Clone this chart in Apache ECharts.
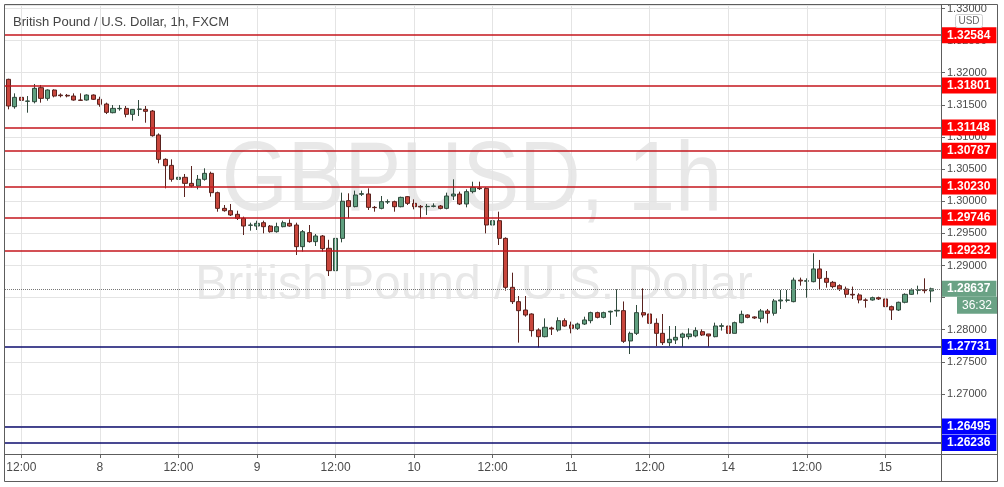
<!DOCTYPE html>
<html><head><meta charset="utf-8">
<script src="https://cdn.jsdelivr.net/npm/echarts@6/dist/echarts.min.js"></script>
<style>html,body{margin:0;padding:0;background:#fff}#c{width:1004px;height:487px}</style>
</head><body><div id="c"></div>
<script>
// ---- data (GBP/USD 1h, FXCM) ----
const opens = [
1.31897,1.31471,1.31617,1.31555,1.31549,1.31767,1.31601,1.31731,1.31653,1.31648,
1.31637,1.31575,1.31575,1.31653,1.31586,1.31513,1.31378,1.31440,1.31445,1.31352,
1.31430,1.31430,1.31404,1.31031,1.30652,1.30558,1.30341,1.30372,1.30278,1.30237,
1.30341,1.30434,1.30133,1.29889,1.29853,1.29796,1.29734,1.29625,1.29614,1.29666,
1.29614,1.29526,1.29604,1.29656,1.29630,1.29293,1.29511,1.29371,1.29459,1.29267,
1.28919,1.29422,1.30009,1.29916,1.30108,1.30113,1.29905,1.29889,1.29988,1.29993,
1.29915,1.30071,1.29967,1.29920,1.29915,1.29920,1.29926,1.29889,1.30081,1.30112,
1.29957,1.30149,1.30206,1.30200,1.29630,1.29697,1.29422,1.28660,1.28437,1.28307,
1.28245,1.27996,1.27892,1.28027,1.27996,1.28141,1.28074,1.28022,1.28089,1.28141,
1.28266,1.28193,1.28276,1.28292,1.28297,1.27825,1.27944,1.28266,1.28245,1.28100,
1.27944,1.27799,1.27840,1.27882,1.27892,1.27903,1.27970,1.27934,1.27892,1.28053,
1.28058,1.27944,1.28110,1.28230,1.28199,1.28178,1.28292,1.28256,1.28448,1.28458,
1.28437,1.28772,1.28754,1.28748,1.28946,1.28800,1.28738,1.28686,1.28634,1.28551,
1.28541,1.28463,1.28463,1.28499,1.28479,1.28359,1.28307,1.28427,1.28551,1.28614,
1.28624,1.28603];
const closes = [
1.31482,1.31617,1.31570,1.31560,1.31757,1.31601,1.31731,1.31637,1.31643,1.31638,
1.31575,1.31570,1.31653,1.31586,1.31508,1.31383,1.31445,1.31445,1.31352,1.31430,
1.31435,1.31399,1.31020,1.30652,1.30553,1.30341,1.30372,1.30278,1.30237,1.30341,
1.30434,1.30133,1.29889,1.29853,1.29786,1.29734,1.29614,1.29630,1.29656,1.29604,
1.29526,1.29604,1.29666,1.29614,1.29293,1.29526,1.29371,1.29459,1.29262,1.28919,
1.29422,1.30000,1.29916,1.30097,1.30118,1.29905,1.29900,1.29993,1.29993,1.29915,
1.30060,1.29967,1.29915,1.29910,1.29920,1.29926,1.29889,1.30081,1.30112,1.29957,
1.30149,1.30216,1.30195,1.29630,1.29697,1.29422,1.28660,1.28437,1.28297,1.28229,
1.27986,1.27892,1.28038,1.28012,1.28141,1.28058,1.28022,1.28089,1.28152,1.28266,
1.28193,1.28266,1.28287,1.28302,1.27820,1.27944,1.28266,1.28229,1.28100,1.27944,
1.27799,1.27851,1.27882,1.27934,1.27934,1.27986,1.27918,1.27903,1.28058,1.28063,
1.27944,1.28110,1.28240,1.28193,1.28183,1.28292,1.28256,1.28448,1.28463,1.28463,
1.28772,1.28759,1.28764,1.28946,1.28800,1.28738,1.28671,1.28634,1.28551,1.28541,
1.28463,1.28458,1.28499,1.28479,1.28359,1.28307,1.28427,1.28551,1.28619,1.28624,
1.28608,1.28637];
const lows = [
1.31430,1.31440,1.31461,1.31378,1.31523,1.31534,1.31565,1.31617,1.31617,1.31617,
1.31565,1.31565,1.31565,1.31575,1.31471,1.31357,1.31368,1.31409,1.31306,1.31254,
1.31326,1.31222,1.31005,1.30590,1.30201,1.30304,1.30175,1.30066,1.30216,1.30185,
1.30320,1.30071,1.29837,1.29837,1.29770,1.29708,1.29474,1.29542,1.29552,1.29500,
1.29511,1.29511,1.29594,1.29604,1.29163,1.29215,1.29355,1.29303,1.29215,1.28836,
1.28852,1.29360,1.29734,1.29905,1.30082,1.29864,1.29837,1.29874,1.29957,1.29837,
1.29905,1.29941,1.29874,1.29734,1.29786,1.29905,1.29874,1.29874,1.30019,1.29941,
1.29905,1.30123,1.30175,1.29500,1.29241,1.29319,1.28608,1.28401,1.27799,1.28203,
1.27892,1.27726,1.27882,1.27918,1.27970,1.28048,1.27944,1.27996,1.28074,1.28100,
1.28177,1.28177,1.28074,1.28203,1.27795,1.27622,1.27918,1.28193,1.28074,1.27747,
1.27763,1.27747,1.27778,1.27737,1.27851,1.27882,1.27903,1.27737,1.27882,1.27986,
1.27903,1.27944,1.28100,1.28178,1.28168,1.28116,1.28100,1.28219,1.28323,1.28427,
1.28427,1.28686,1.28499,1.28738,1.28634,1.28655,1.28645,1.28603,1.28499,1.28479,
1.28411,1.28344,1.28453,1.28463,1.28333,1.28152,1.28292,1.28411,1.28541,1.28551,
1.28567,1.28427];
const highs = [
1.31907,1.31679,1.31669,1.31637,1.31824,1.31809,1.31741,1.31741,1.31679,1.31669,
1.31679,1.31679,1.31663,1.31663,1.31627,1.31534,1.31497,1.31497,1.31482,1.31435,
1.31575,1.31482,1.31420,1.31056,1.30667,1.30652,1.30476,1.30424,1.30548,1.30408,
1.30512,1.30460,1.30149,1.29941,1.29957,1.29853,1.29760,1.29666,1.29697,1.29697,
1.29630,1.29666,1.29697,1.29718,1.29666,1.29552,1.29630,1.29490,1.29474,1.29400,
1.29830,1.30133,1.30123,1.30165,1.30165,1.30201,1.29926,1.30081,1.30029,1.30009,
1.30071,1.30081,1.30029,1.29941,1.29957,1.29967,1.29941,1.30133,1.30341,1.30149,
1.30185,1.30304,1.30304,1.30216,1.29941,1.29837,1.29438,1.28888,1.28525,1.28525,
1.28255,1.28022,1.28177,1.28048,1.28193,1.28177,1.28126,1.28110,1.28203,1.28281,
1.28281,1.28281,1.28297,1.28629,1.28440,1.27970,1.28385,1.28644,1.28318,1.28177,
1.28245,1.28058,1.28058,1.27954,1.28022,1.28038,1.28006,1.27934,1.28110,1.28100,
1.28074,1.28126,1.28297,1.28240,1.28209,1.28323,1.28323,1.28479,1.28619,1.28619,
1.28811,1.28811,1.28800,1.29189,1.29086,1.28914,1.28759,1.28707,1.28671,1.28671,
1.28567,1.28489,1.28515,1.28515,1.28515,1.28375,1.28437,1.28567,1.28645,1.28686,
1.28800,1.28655];
// trading sessions shown: [day, firstHour, lastHour]
const sessions = [[7,10,23],[8,0,23],[9,0,23],[10,0,23],[11,0,21],[13,22,23],[14,0,23],[15,0,7]];
const timeTickIndex  = [2,14,26,38,50,62,74,86,98,110,122,134];
const timeTickLabels = ['12:00','8','12:00','9','12:00','10','12:00','11','12:00','14','12:00','15'];
const resistanceLevels = [1.32584,1.31801,1.31148,1.30787,1.30230,1.29746,1.29232];
const supportLevels = [1.27731,1.26495,1.26236];
const lastPrice = 1.28637;
const countdown = '36:32';
const hiddenPriceLabels = ['1.28500']; // covered by the last-price label in the reference
const titleText = 'British Pound / U.S. Dollar, 1h, FXCM';
const watermark1 = 'GBPUSD, 1h';
const watermark2 = 'British Pound / U.S. Dollar';
const currency = 'USD';

// ---- build ----
const categories = [];
sessions.forEach(([d, a, b]) => { for (let h = a; h <= b; h++) categories.push(d + ' ' + h + ':00'); });
categories.push(''); // empty slot to the right of last bar
const tickMap = {};
timeTickIndex.forEach((ix, k) => tickMap[ix] = timeTickLabels[k]);
const candles = opens.map((o, i) => [o, closes[i], lows[i], highs[i]]);

const FONT = 'Liberation Sans, Arial, sans-serif';
const chart = echarts.init(document.getElementById('c'), null, {renderer: 'canvas'});
const lvl = (v, line, bg) => ({yAxis: v, lineStyle: {color: line, width: 1.5, type: 'solid'},
  label: {backgroundColor: bg}});

chart.setOption({
  animation: false,
  backgroundColor: '#ffffff',
  grid: {left: 5, right: 63, top: 5, bottom: 33},
  xAxis: {
    type: 'category', data: categories, boundaryGap: true,
    axisLine: {show: true, lineStyle: {color: '#666', width: 1}},
    axisTick: {show: true, alignWithLabel: true, length: 4, lineStyle: {color: '#666'},
      interval: (i) => tickMap.hasOwnProperty(i)},
    axisLabel: {interval: (i) => tickMap.hasOwnProperty(i), formatter: (v, i) => tickMap[i] || '',
      color: '#4a4a4a', fontSize: 12, fontFamily: FONT, margin: 8},
    splitLine: {show: false}
  },
  yAxis: {
    type: 'value', position: 'right', scale: true,
    min: 1.26066, max: 1.33054, splitNumber: 14, minInterval: 0.005, maxInterval: 0.005,
    axisLine: {show: true, lineStyle: {color: '#666', width: 1}},
    axisTick: {show: true, length: 4, lineStyle: {color: '#666'}},
    axisLabel: {formatter: (v) => { const s = v.toFixed(5); return hiddenPriceLabels.indexOf(s) >= 0 ? '' : s; },
      showMinLabel: false, showMaxLabel: false,
      color: '#4a4a4a', fontSize: 11, fontFamily: FONT, margin: 6},
    splitLine: {show: true, lineStyle: {color: '#e4e4e4', width: 1}}
  },
  series: [
    {
      type: 'line', data: [], z: 1, silent: true,
      markLine: {
        silent: true, symbol: ['none', 'none'], label: {show: false},
        lineStyle: {color: '#e4e4e4', width: 1, type: 'solid'},
        data: timeTickIndex.map(ix => ({xAxis: ix}))
      }
    },
    {
      type: 'candlestick', z: 3, barWidth: '70%', data: candles,
      itemStyle: {color: '#5f9f7f', color0: '#c8463c', borderColor: '#2f4a3c', borderColor0: '#5a221e', borderWidth: 1},
      markLine: {
        silent: true, symbol: ['none', 'none'], precision: 5,
        label: {show: true, position: 'end', distance: 0, color: '#fff', fontWeight: 'bold', fontSize: 12,
          fontFamily: FONT, lineHeight: 12, padding: [2, 6, 2, 6], formatter: (p) => Number(p.value).toFixed(5)},
        data: resistanceLevels.map(v => lvl(v, '#c4161c', '#ff0000'))
          .concat(supportLevels.map(v => lvl(v, '#0c0c6e', '#0000ff')))
          .concat([{yAxis: lastPrice, lineStyle: {color: '#777', width: 1, type: 'dotted'},
                    label: {backgroundColor: '#6aa285'}}])
      }
    }
  ],
  graphic: [
    {type: 'text', z: -10, x: 472, y: 183, scaleY: 1.15,
      style: {text: watermark1, font: '85px ' + FONT, fill: '#e8e8e8', align: 'center', verticalAlign: 'middle'}},
    {type: 'text', z: -10, x: 474, y: 286,
      style: {text: watermark2, font: '48px ' + FONT, fill: '#e8e8e8', align: 'center', verticalAlign: 'middle'}},
    {type: 'text', z: 20, x: 13, y: 22,
      style: {text: titleText, font: '13px ' + FONT, fill: '#444', align: 'left', verticalAlign: 'middle'}},
    {type: 'rect', z: 20, shape: {x: 955.5, y: 14.5, width: 27, height: 13, r: 2},
      style: {fill: '#fff', stroke: '#cfcfcf', lineWidth: 1}},
    {type: 'text', z: 21, x: 969, y: 21,
      style: {text: currency, font: '10px ' + FONT, fill: '#666', align: 'center', verticalAlign: 'middle'}},
    {type: 'rect', z: 30, shape: {x: 4.5, y: 4.5, width: 993, height: 477},
      style: {fill: null, stroke: '#5d5d5d', lineWidth: 1}},
    {type: 'line', z: 30, shape: {x1: 4, y1: 454.5, x2: 998, y2: 454.5}, style: {stroke: '#5d5d5d', lineWidth: 1}},
    {type: 'line', z: 30, shape: {x1: 941.5, y1: 5, x2: 941.5, y2: 482}, style: {stroke: '#5d5d5d', lineWidth: 1}}
  ]
});

// countdown box under the last-price label, placed from the y scale
const py = chart.convertToPixel({yAxisIndex: 0}, lastPrice);
chart.setOption({graphic: [
  {type: 'rect', id: 'cdRect', z: 25, shape: {x: 957, y: py + 8, width: 40, height: 17},
    style: {fill: '#6aa285'}},
  {type: 'text', id: 'cdText', z: 26, x: 977, y: py + 16.5,
    style: {text: countdown, font: '12px ' + FONT, fill: '#fff', align: 'center', verticalAlign: 'middle'}}
]});
</script>
</body></html>
